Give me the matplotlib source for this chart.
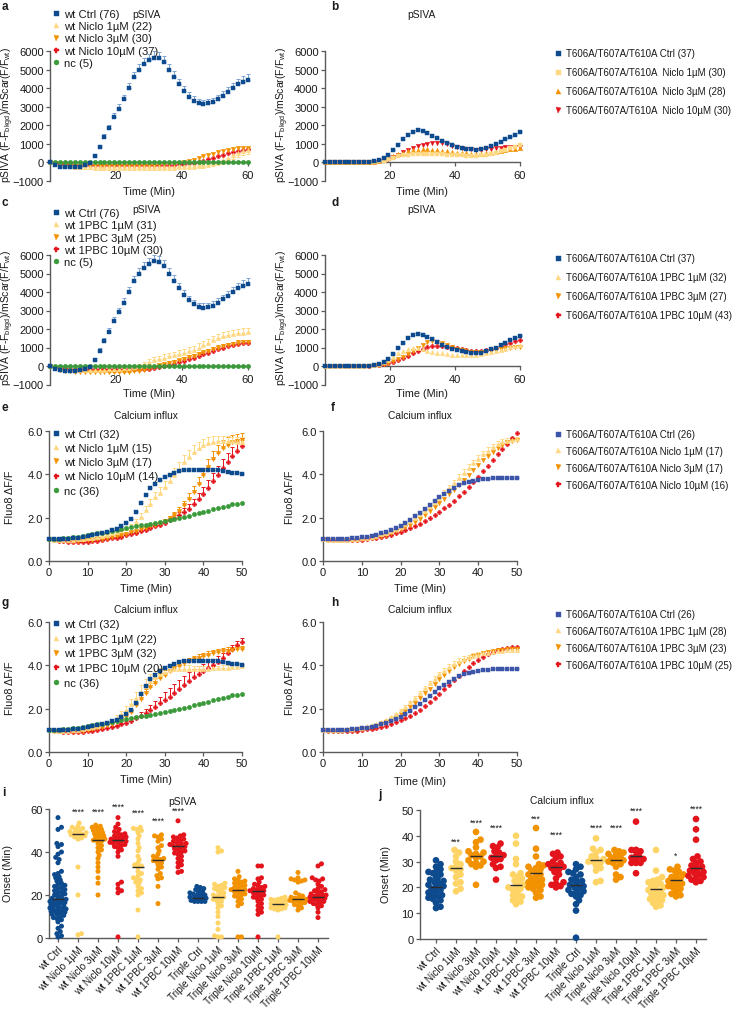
import numpy as np
import matplotlib
matplotlib.use('Agg')
import matplotlib.pyplot as plt
from matplotlib.lines import Line2D

plt.rcParams['font.family'] = ['Liberation Sans', 'DejaVu Sans']
plt.rcParams['mathtext.fontset'] = 'custom'
plt.rcParams['mathtext.rm'] = 'Liberation Sans'

# ---------------- DATA ----------------
t_psiva = np.arange(0, 60.01, 1.5)     # 41 time points (min)
t_ca = np.arange(0, 50.01, 1.25)       # 41 time points (min)

# panel a / c (wt pSIVA)
wt_ctrl_psiva = [0, -150, -230, -260, -270, -260, -220, -150, -30, 350,
                 820, 1350, 1850, 2450, 2900, 3400, 4000, 4600, 5000, 5300,
                 5500, 5650, 5620, 5400, 5000, 4600, 4200, 3850, 3550, 3330,
                 3200, 3150, 3180, 3250, 3400, 3600, 3800, 4000, 4200, 4350,
                 4450]
err_wt_ctrl_psiva = [0, 40, 60, 70, 70, 70, 70, 70, 80, 100,
                     130, 160, 190, 210, 230, 250, 270, 290, 300, 320,
                     340, 350, 350, 340, 320, 300, 280, 260, 250, 240,
                     230, 230, 230, 240, 250, 260, 270, 280, 290, 300,
                     300]
wt_niclo1_psiva = [0, -50, -100, -150, -200, -220, -240, -250, -250, -250,
                   -250, -250, -250, -250, -250, -250, -250, -250, -250, -250,
                   -250, -250, -250, -240, -230, -220, -210, -200, -190, -170,
                   -150, -120, -80, -30, 30, 120, 250, 380, 500, 600,
                   680]
err_wt_niclo1_psiva = [0, 20, 40, 60, 80, 100, 110, 120, 130, 140,
                       150, 160, 160, 170, 170, 170, 170, 170, 170, 170,
                       170, 170, 170, 170, 170, 170, 170, 170, 170, 170,
                       170, 170, 170, 170, 170, 180, 180, 190, 190, 200,
                       200]
wt_niclo3_psiva = [0, -30, -80, -120, -150, -170, -180, -190, -200, -200,
                   -200, -200, -200, -200, -200, -200, -200, -200, -200, -190,
                   -180, -170, -150, -130, -100, -60, -20, 30, 80, 150,
                   230, 320, 400, 480, 550, 620, 680, 720, 760, 790,
                   800]
wt_niclo10_psiva = [0, -30, -60, -80, -100, -120, -130, -140, -150, -150,
                    -150, -150, -150, -150, -150, -150, -150, -150, -150, -150,
                    -150, -150, -150, -150, -140, -130, -110, -80, -50, -10,
                    40, 100, 180, 260, 340, 420, 500, 560, 620, 680,
                    720]
nc_psiva = [0, 0, 10, 10, 10, 10, 10, 20, 20, 20,
            20, 20, 20, 20, 20, 20, 20, 20, 20, 20,
            20, 20, 20, 20, 20, 20, 20, 20, 20, 20,
            20, 20, 20, 20, 20, 20, 20, 20, 20, 20,
            20]
wt_1pbc1_psiva = [0, -80, -150, -180, -200, -200, -200, -200, -200, -200,
                  -200, -200, -180, -160, -140, -120, -100, -60, 0, 100,
                  200, 300, 380, 450, 520, 580, 650, 720, 800, 880,
                  1000, 1120, 1250, 1380, 1500, 1600, 1680, 1740, 1780, 1800,
                  1820]
err_wt_1pbc1_psiva = [0, 20, 30, 40, 40, 40, 40, 40, 40, 40,
                      40, 40, 50, 60, 70, 80, 90, 100, 120, 140,
                      160, 170, 180, 190, 200, 200, 210, 210, 210, 220,
                      220, 220, 220, 230, 230, 230, 230, 230, 240, 240,
                      240]
wt_1pbc3_psiva = [0, -100, -200, -250, -280, -300, -300, -300, -300, -300,
                  -300, -300, -300, -300, -300, -300, -300, -280, -250, -200,
                  -120, -50, 30, 100, 170, 240, 310, 390, 470, 550,
                  640, 730, 820, 910, 1000, 1080, 1150, 1210, 1260, 1290,
                  1300]
err_wt_1pbc3_psiva = [0, 10, 20, 20, 30, 30, 30, 30, 30, 30,
                      30, 30, 30, 30, 30, 30, 30, 40, 40, 50,
                      60, 60, 70, 70, 80, 80, 90, 90, 100, 100,
                      100, 100, 110, 110, 110, 110, 110, 110, 120, 120,
                      120]
wt_1pbc10_psiva = [0, -60, -100, -130, -150, -160, -170, -170, -170, -170,
                   -170, -170, -170, -170, -170, -170, -170, -170, -170, -160,
                   -140, -100, -50, 0, 60, 130, 200, 280, 360, 450,
                   540, 630, 720, 810, 900, 980, 1060, 1130, 1190, 1230,
                   1250]

# panel b / d (triple mutant pSIVA)
tri_ctrl_psiva = [0, 0, 0, 0, 0, 0, 0, 0, 0, 20,
                  60, 120, 230, 380, 650, 950, 1250, 1500, 1650, 1720,
                  1680, 1580, 1450, 1300, 1150, 1020, 920, 850, 790, 740,
                  700, 680, 720, 800, 900, 1000, 1120, 1250, 1380, 1500,
                  1620]
err_tri_ctrl_psiva = [0, 0, 0, 0, 0, 0, 0, 0, 0, 10,
                      10, 20, 30, 40, 60, 80, 100, 110, 120, 120,
                      120, 110, 100, 90, 80, 70, 60, 60, 60, 50,
                      50, 50, 50, 60, 60, 60, 70, 70, 70, 80,
                      80]
tri_niclo1_psiva = [0, 0, 0, 0, 0, 0, 0, 0, 0, 10,
                    30, 60, 100, 170, 250, 320, 380, 420, 450, 460,
                    460, 460, 450, 440, 430, 420, 400, 390, 380, 370,
                    360, 360, 380, 420, 470, 530, 600, 680, 760, 840,
                    920]
tri_niclo3_psiva = [0, 0, 0, 0, 0, 0, 0, 0, 0, 10,
                    40, 80, 150, 250, 350, 450, 530, 600, 650, 690,
                    700, 700, 680, 650, 620, 590, 560, 530, 510, 490,
                    470, 460, 470, 490, 520, 560, 600, 650, 700, 740,
                    780]
tri_niclo10_psiva = [0, 0, 0, 0, 0, 0, 0, 0, 0, 10,
                     30, 60, 120, 200, 300, 420, 540, 650, 760, 860,
                     940, 1000, 1040, 1050, 1020, 970, 910, 850, 790, 740,
                     700, 680, 690, 720, 750, 780, 800, 810, 820, 830,
                     830]
tri_1pbc1_psiva = [0, 0, 0, 0, 0, 0, 0, 0, 0, 30,
                   60, 110, 200, 330, 500, 680, 830, 940, 1000, 980,
                   900, 820, 760, 720, 680, 650, 620, 600, 590, 580,
                   590, 600, 630, 680, 740, 800, 870, 940, 1010, 1080,
                   1150]
tri_1pbc3_psiva = [0, 0, 0, 0, 0, 0, 0, 0, 0, 10,
                   30, 60, 110, 180, 270, 380, 500, 650, 820, 1000,
                   1150, 1280, 1330, 1300, 1220, 1120, 1020, 930, 850, 790,
                   750, 730, 740, 780, 820, 870, 910, 950, 990, 1020,
                   1050]
tri_1pbc10_psiva = [0, 0, 0, 0, 0, 0, 0, 0, 0, 10,
                    30, 60, 100, 160, 230, 320, 420, 540, 680, 820,
                    940, 1030, 1080, 1090, 1080, 1050, 1010, 960, 900, 850,
                    810, 790, 800, 840, 900, 980, 1070, 1170, 1260, 1340,
                    1400]

# panel e / g (wt calcium)
wt_ctrl_ca = [1.00, 1.00, 1.01, 1.02, 1.03, 1.05, 1.07, 1.10, 1.14, 1.19,
              1.24, 1.29, 1.35, 1.42, 1.50, 1.60, 1.75, 1.95, 2.25, 2.70,
              3.05, 3.35, 3.56, 3.72, 3.88, 3.99, 4.08, 4.15, 4.19, 4.21,
              4.22, 4.22, 4.22, 4.21, 4.20, 4.18, 4.15, 4.12, 4.08, 4.04,
              4.00]
err_wt_ctrl_ca = [0, 0, 0, 0, 0, 0, 0, 0, 0.01, 0.01,
                  0.01, 0.01, 0.02, 0.02, 0.02, 0.03, 0.03, 0.04, 0.05, 0.06,
                  0.07, 0.08, 0.09, 0.09, 0.09, 0.09, 0.08, 0.08, 0.07, 0.07,
                  0.07, 0.07, 0.07, 0.07, 0.07, 0.07, 0.07, 0.07, 0.07, 0.07,
                  0.07]
wt_niclo1_ca = [1.00, 0.99, 0.98, 0.98, 0.98, 0.99, 1.00, 1.02, 1.05, 1.08,
                1.12, 1.16, 1.21, 1.27, 1.34, 1.42, 1.51, 1.62, 1.80, 2.05,
                2.35, 2.65, 2.95, 3.15, 3.40, 3.68, 3.98, 4.25, 4.55, 4.80,
                5.02, 5.20, 5.35, 5.45, 5.50, 5.52, 5.53, 5.53, 5.52, 5.51,
                5.50]
err_wt_niclo1_ca = [0, 0, 0, 0, 0, 0, 0, 0.01, 0.01, 0.02,
                    0.02, 0.03, 0.03, 0.04, 0.05, 0.06, 0.08, 0.10, 0.13, 0.16,
                    0.19, 0.22, 0.25, 0.28, 0.30, 0.32, 0.33, 0.34, 0.34, 0.33,
                    0.32, 0.30, 0.28, 0.26, 0.25, 0.24, 0.23, 0.22, 0.22, 0.22,
                    0.22]
wt_niclo3_ca = [1.00, 0.98, 0.96, 0.95, 0.94, 0.94, 0.94, 0.95, 0.96, 0.98,
                1.00, 1.03, 1.06, 1.10, 1.15, 1.20, 1.26, 1.32, 1.39, 1.46,
                1.53, 1.60, 1.67, 1.75, 1.85, 1.97, 2.12, 2.32, 2.58, 2.88,
                3.20, 3.55, 3.95, 4.35, 4.70, 4.98, 5.20, 5.36, 5.48, 5.56,
                5.60]
err_wt_niclo3_ca = [0, 0, 0, 0, 0, 0, 0, 0, 0.01, 0.01,
                    0.01, 0.02, 0.02, 0.03, 0.03, 0.04, 0.04, 0.05, 0.05, 0.06,
                    0.06, 0.07, 0.08, 0.09, 0.10, 0.12, 0.14, 0.17, 0.20, 0.24,
                    0.28, 0.32, 0.35, 0.37, 0.38, 0.38, 0.37, 0.35, 0.33, 0.31,
                    0.30]
wt_niclo10_ca = [1.00, 0.97, 0.94, 0.92, 0.90, 0.89, 0.89, 0.89, 0.90, 0.92,
                 0.94, 0.97, 1.00, 1.04, 1.08, 1.13, 1.18, 1.24, 1.30, 1.37,
                 1.44, 1.52, 1.60, 1.68, 1.77, 1.87, 1.98, 2.12, 2.25, 2.42,
                 2.62, 2.85, 3.10, 3.38, 3.67, 3.97, 4.27, 4.57, 4.85, 5.10,
                 5.30]
err_wt_niclo10_ca = [0, 0, 0, 0, 0, 0, 0, 0, 0.01, 0.01,
                     0.01, 0.02, 0.02, 0.02, 0.03, 0.03, 0.04, 0.04, 0.05, 0.05,
                     0.06, 0.07, 0.08, 0.09, 0.10, 0.11, 0.13, 0.15, 0.18, 0.21,
                     0.25, 0.29, 0.33, 0.37, 0.40, 0.42, 0.43, 0.43, 0.42, 0.40,
                     0.38]
nc_ca = [1.00, 1.01, 1.02, 1.04, 1.06, 1.09, 1.12, 1.15, 1.19, 1.23,
         1.27, 1.31, 1.35, 1.39, 1.43, 1.47, 1.52, 1.56, 1.60, 1.64,
         1.68, 1.72, 1.76, 1.80, 1.84, 1.88, 1.93, 1.98, 2.03, 2.09,
         2.15, 2.21, 2.27, 2.33, 2.39, 2.45, 2.51, 2.56, 2.61, 2.65,
         2.69]
wt_1pbc1_ca = [1.00, 0.99, 0.98, 0.98, 0.99, 1.00, 1.02, 1.05, 1.09, 1.14,
               1.20, 1.27, 1.35, 1.45, 1.58, 1.75, 1.95, 2.20, 2.48, 2.78,
               3.05, 3.28, 3.45, 3.58, 3.70, 3.78, 3.82, 3.84, 3.85, 3.85,
               3.85, 3.85, 3.85, 3.85, 3.86, 3.87, 3.88, 3.90, 3.92, 3.94,
               3.95]
err_wt_1pbc1_ca = [0, 0, 0, 0, 0, 0, 0.01, 0.01, 0.02, 0.03,
                   0.04, 0.05, 0.07, 0.09, 0.12, 0.15, 0.19, 0.23, 0.27, 0.30,
                   0.31, 0.31, 0.30, 0.28, 0.25, 0.22, 0.20, 0.18, 0.16, 0.15,
                   0.14, 0.13, 0.12, 0.12, 0.12, 0.12, 0.12, 0.12, 0.12, 0.12,
                   0.12]
wt_1pbc3_ca = [1.00, 0.98, 0.96, 0.95, 0.95, 0.95, 0.96, 0.98, 1.01, 1.05,
               1.10, 1.16, 1.23, 1.31, 1.40, 1.52, 1.66, 1.84, 2.15, 2.45,
               2.72, 2.98, 3.20, 3.40, 3.57, 3.72, 3.86, 3.98, 4.09, 4.19,
               4.28, 4.36, 4.43, 4.49, 4.55, 4.60, 4.64, 4.68, 4.71, 4.74,
               4.76]
err_wt_1pbc3_ca = [0, 0, 0, 0, 0, 0, 0, 0.01, 0.01, 0.02,
                   0.02, 0.03, 0.04, 0.05, 0.06, 0.08, 0.10, 0.12, 0.15, 0.18,
                   0.20, 0.22, 0.23, 0.23, 0.22, 0.21, 0.20, 0.19, 0.18, 0.17,
                   0.16, 0.15, 0.15, 0.15, 0.15, 0.15, 0.15, 0.15, 0.15, 0.15,
                   0.15]
wt_1pbc10_ca = [1.00, 0.97, 0.95, 0.93, 0.92, 0.92, 0.92, 0.93, 0.95, 0.98,
                1.01, 1.05, 1.10, 1.15, 1.21, 1.28, 1.36, 1.45, 1.55, 1.67,
                1.80, 1.94, 2.09, 2.24, 2.40, 2.56, 2.73, 2.90, 3.08, 3.27,
                3.45, 3.60, 3.74, 3.88, 4.01, 4.15, 4.35, 4.55, 4.75, 4.93,
                5.10]
err_wt_1pbc10_ca = [0, 0, 0, 0, 0, 0, 0, 0, 0.01, 0.01,
                    0.02, 0.02, 0.03, 0.04, 0.05, 0.06, 0.08, 0.10, 0.13, 0.16,
                    0.20, 0.24, 0.28, 0.32, 0.35, 0.38, 0.40, 0.41, 0.41, 0.40,
                    0.38, 0.36, 0.33, 0.30, 0.28, 0.26, 0.24, 0.22, 0.20, 0.19,
                    0.18]

# panel f / h (triple mutant calcium)
tri_ctrl_ca = [1.00, 1.00, 1.00, 1.01, 1.02, 1.03, 1.05, 1.07, 1.10, 1.13,
               1.17, 1.22, 1.28, 1.35, 1.43, 1.52, 1.63, 1.76, 1.90, 2.06,
               2.23, 2.41, 2.59, 2.77, 2.94, 3.10, 3.25, 3.38, 3.49, 3.58,
               3.65, 3.71, 3.75, 3.78, 3.80, 3.81, 3.82, 3.82, 3.82, 3.82,
               3.81]
err_tri_ctrl_ca = [0, 0, 0, 0, 0, 0, 0, 0.01, 0.01, 0.01,
                   0.01, 0.02, 0.02, 0.02, 0.03, 0.03, 0.04, 0.04, 0.05, 0.05,
                   0.06, 0.06, 0.07, 0.07, 0.07, 0.07, 0.07, 0.07, 0.06, 0.06,
                   0.06, 0.05, 0.05, 0.05, 0.05, 0.05, 0.05, 0.05, 0.05, 0.05,
                   0.05]
tri_niclo1_ca = [1.00, 0.99, 0.98, 0.98, 0.98, 0.99, 1.00, 1.02, 1.05, 1.08,
                 1.12, 1.17, 1.23, 1.30, 1.38, 1.47, 1.57, 1.69, 1.83, 1.98,
                 2.15, 2.33, 2.52, 2.72, 2.93, 3.15, 3.38, 3.61, 3.84, 4.07,
                 4.30, 4.52, 4.73, 4.92, 5.10, 5.25, 5.38, 5.48, 5.55, 5.60,
                 5.62]
err_tri_niclo1_ca = [0, 0, 0, 0, 0, 0, 0, 0, 0.01, 0.01,
                     0.01, 0.02, 0.02, 0.03, 0.03, 0.04, 0.05, 0.06, 0.07, 0.08,
                     0.09, 0.10, 0.11, 0.12, 0.13, 0.14, 0.15, 0.15, 0.16, 0.16,
                     0.16, 0.16, 0.16, 0.15, 0.15, 0.14, 0.14, 0.13, 0.13, 0.12,
                     0.12]
tri_niclo3_ca = [1.00, 0.99, 0.98, 0.97, 0.97, 0.97, 0.98, 0.99, 1.01, 1.04,
                 1.07, 1.11, 1.16, 1.22, 1.29, 1.37, 1.46, 1.56, 1.68, 1.81,
                 1.96, 2.12, 2.29, 2.47, 2.66, 2.86, 3.07, 3.29, 3.51, 3.74,
                 3.97, 4.20, 4.43, 4.65, 4.86, 5.05, 5.22, 5.36, 5.47, 5.55,
                 5.60]
tri_niclo10_ca = [1.00, 0.99, 0.97, 0.96, 0.96, 0.96, 0.96, 0.97, 0.99, 1.01,
                  1.04, 1.07, 1.11, 1.16, 1.22, 1.28, 1.35, 1.43, 1.52, 1.62,
                  1.73, 1.85, 1.98, 2.12, 2.27, 2.43, 2.60, 2.79, 2.99, 3.20,
                  3.42, 3.65, 3.89, 4.14, 4.40, 4.66, 4.92, 5.17, 5.42, 5.66,
                  5.90]
tri_1pbc1_ca = [1.00, 1.00, 1.00, 1.01, 1.02, 1.04, 1.06, 1.09, 1.13, 1.18,
                1.24, 1.31, 1.40, 1.50, 1.62, 1.76, 1.92, 2.10, 2.30, 2.51,
                2.73, 2.95, 3.17, 3.38, 3.58, 3.76, 3.92, 4.06, 4.18, 4.28,
                4.37, 4.44, 4.50, 4.55, 4.59, 4.62, 4.65, 4.67, 4.69, 4.70,
                4.71]
err_tri_1pbc1_ca = [0, 0, 0, 0, 0, 0, 0, 0, 0.01, 0.01,
                    0.01, 0.02, 0.02, 0.03, 0.03, 0.04, 0.05, 0.06, 0.07, 0.08,
                    0.09, 0.10, 0.11, 0.12, 0.13, 0.14, 0.14, 0.14, 0.14, 0.14,
                    0.13, 0.13, 0.12, 0.12, 0.11, 0.11, 0.10, 0.10, 0.10, 0.10,
                    0.10]
tri_1pbc3_ca = [1.00, 0.99, 0.99, 0.99, 0.99, 1.00, 1.02, 1.04, 1.07, 1.11,
                1.16, 1.22, 1.29, 1.38, 1.48, 1.60, 1.74, 1.90, 2.08, 2.28,
                2.49, 2.71, 2.93, 3.15, 3.36, 3.56, 3.74, 3.91, 4.06, 4.19,
                4.31, 4.41, 4.49, 4.56, 4.62, 4.67, 4.70, 4.73, 4.75, 4.76,
                4.77]
tri_1pbc10_ca = [1.00, 0.99, 0.98, 0.97, 0.97, 0.97, 0.98, 0.99, 1.01, 1.04,
                 1.07, 1.11, 1.16, 1.22, 1.29, 1.37, 1.46, 1.56, 1.68, 1.81,
                 1.96, 2.12, 2.30, 2.49, 2.69, 2.90, 3.11, 3.32, 3.53, 3.73,
                 3.92, 4.10, 4.26, 4.40, 4.52, 4.62, 4.70, 4.76, 4.80, 4.83,
                 4.85]

# panels i / j (onset scatter)
groups = ["wt Ctrl", "wt Niclo 1µM", "wt Niclo 3µM", "wt Niclo 10µM",
          "wt 1PBC 1µM", "wt 1PBC 3µM", "wt 1PBC 10µM", "Triple Ctrl",
          "Triple Niclo 1µM", "Triple Niclo 3µM", "Triple Niclo 10µM",
          "Triple 1PBC 1µM", "Triple 1PBC 3µM", "Triple 1PBC 10µM"]

onset_psiva = [
    [56, 51.5, 50.5, 44, 43.5, 42.5, 40, 39, 37.5, 36.5, 35, 31, 30, 29.5, 28.5, 28, 27, 26.5, 25.5, 25,
     24.5, 24, 23.5, 23, 22.5, 22, 21.5, 21, 20.5, 20, 19.5, 19, 18.5, 18.5, 18, 18, 18, 17.5, 17.5, 17,
     17, 16.5, 16.5, 16, 16, 15.5, 15.5, 15, 15, 14.5, 14.5, 14, 14, 13.5, 13.5, 13, 13, 12.5, 12.5, 12,
     12, 11.5, 11, 11, 10.5, 10, 9.5, 9, 8.5, 7.5, 5.5, 4.5, 3, 2, 1, 0.5],
    [53.5, 52, 51.5, 51, 50.5, 50, 49.5, 49, 49, 48.5, 48.5, 48.5, 48, 48, 47.5, 47, 46.5, 46, 33, 20, 2, 1.5],
    [52.5, 52, 51.5, 51, 50.5, 50, 49.5, 49, 48.5, 48, 47.5, 47, 46.5, 46, 45.5, 45.5, 45, 44, 43, 42,
     41, 40, 38.5, 37, 35, 33, 28, 25.5, 20, 31],
    [56, 53, 51.5, 50.5, 49.5, 49, 48.5, 48, 47.5, 47, 47, 46.5, 46.5, 46, 46, 45.5, 45.5, 45.5, 45, 45,
     44.5, 44.5, 44, 44, 43.5, 43, 42.5, 42, 41, 40, 38, 26, 25, 23, 21, 0.5, 22],
    [51.5, 51, 50.5, 50, 49, 47.5, 46, 44, 42, 40.5, 38, 36.5, 35, 34, 33.5, 33, 31, 30, 29, 28,
     27.5, 27, 26, 25.5, 24, 23, 22, 21, 20, 13, 0.5],
    [48, 47.5, 47, 46, 45, 43, 42, 40.5, 39, 38, 37.5, 37, 36.5, 36, 35.5, 35, 34, 33, 32, 30,
     29, 28, 27.5, 24, 16],
    [54.5, 48, 47.5, 47, 46.5, 46, 45.5, 45, 44.5, 44, 44, 43.5, 43, 43, 42.5, 42, 41.5, 41, 40.5, 40,
     39.5, 39, 38, 37, 36, 35, 34, 33, 31, 30.5],
    [24, 23.5, 23, 22.5, 22, 21.5, 21, 20.5, 20.5, 20, 20, 19.5, 19.5, 19, 19, 19, 18.5, 18.5, 18.5, 18.5,
     18, 18, 18, 18, 18, 17.5, 17.5, 17.5, 17.5, 17.5, 17, 17, 17, 17, 19, 18.5, 18],
    [42, 40.5, 40, 25.5, 25, 24.5, 24, 23.5, 23, 22.5, 22, 21, 20.5, 20, 19.5, 19, 18.5, 18, 17.5, 17,
     16, 15, 14, 12, 10, 7, 4, 1, 0.5, 0.5],
    [31, 28.5, 27.5, 27, 26.5, 26, 25.5, 25, 24.5, 24, 23.5, 23, 22.5, 22.5, 22, 21.5, 21, 20.5, 20, 19.5,
     19, 18, 17, 16, 15, 0.5, 0.5, 23],
    [33.5, 33.5, 28, 27.5, 26, 25, 24.5, 24, 23.5, 23, 22.5, 22, 22, 21.5, 21, 20.5, 20, 19.5, 19, 18.5,
     18, 17, 16, 15, 14, 13, 12, 11, 0.5, 22.5],
    [19, 18.5, 18, 18, 17.5, 17.5, 17, 17, 16.5, 16.5, 16.5, 16, 16, 16, 16, 15.5, 15.5, 15.5, 15, 15,
     15, 14.5, 14.5, 14, 14, 13.5, 13.5, 13, 17, 16, 15, 0.5],
    [30.5, 28, 27.5, 27, 27, 26.5, 26, 21, 20, 19.5, 19, 18.5, 18.5, 18, 18, 18, 17.5, 17.5, 17, 17,
     16.5, 16, 15.5, 15, 14, 13, 17.5],
    [34.5, 33.5, 28, 27.5, 27, 26.5, 25, 24, 23, 22.5, 22, 21.5, 21, 21, 20.5, 20.5, 20, 20, 20, 19.5,
     19.5, 19.5, 19, 19, 19, 19, 18.5, 18.5, 18.5, 18, 18, 18, 17.5, 17.5, 17, 17, 16.5, 16, 15.5, 15,
     14, 12, 9.5],
]
center_psiva = [18, 48.5, 45.5, 45.5, 33, 36.5, 43, 18.5, 19, 22.5, 22, 16, 18, 19]
stars_psiva = [(1, "****", 58.9), (2, "****", 58.9), (3, "****", 61.2),
               (4, "****", 58.4), (5, "****", 55.0), (6, "****", 59.2)]

onset_ca = [
    [30.5, 29, 28, 27, 26, 26, 25.5, 25, 24, 23.5, 23, 22.5, 22, 21.5, 21, 20.5, 20, 20, 19.5, 19,
     18.5, 18, 18, 17.5, 17, 16.5, 16, 15.5, 15, 14, 12.5, 12],
    [34.5, 33.5, 32, 30, 29, 28, 27.5, 27, 26.5, 25, 24, 22, 21.5, 19.5, 18.5],
    [41.5, 38.5, 37.5, 35.5, 34, 33, 32.5, 32, 31.5, 30.5, 30, 29.5, 29, 28.5, 28, 21, 33.5],
    [37, 36, 35.5, 34, 33.5, 32.5, 32, 31.5, 31, 30.5, 29, 28, 27.5, 23],
    [40, 37, 31, 29, 25.5, 25, 24, 23.5, 22.5, 22, 21, 20.5, 20, 19.5, 19, 18, 17, 16.5, 16, 15,
     14.5, 13.5],
    [43, 35, 32, 29, 28.5, 28, 27.5, 27, 26.5, 26, 26, 25.5, 25.5, 25, 25, 24.5, 24, 24, 23.5, 23,
     23, 22.5, 22, 21.5, 21, 20.5, 20, 19.5, 19, 18, 16.5, 16],
    [33.5, 33, 32, 31.5, 30, 29.5, 29, 28.5, 28, 28, 27.5, 27, 26, 25, 23.5, 22, 21, 20.5, 20, 21.5],
    [29, 28, 27, 26, 25.5, 25, 24, 23.5, 23, 22.5, 22, 21.5, 21, 20.5, 20, 19.5, 19, 18.5, 18, 17.5,
     17, 16.5, 15, 13.5, 11, 0.5],
    [39, 35, 34.5, 33.5, 32, 31.5, 31, 30.5, 30.5, 30, 29.5, 28.5, 27.5, 26.5, 22.5, 22, 30],
    [34.5, 34, 33.5, 32.5, 32, 31.5, 31, 30.5, 30.5, 30, 29.5, 29, 28, 25, 24, 23, 33],
    [45.5, 34.5, 34.5, 34.5, 34, 32, 32, 31.5, 31, 30.5, 29.5, 29.5, 29.5, 25.5, 34, 32],
    [34.5, 26.5, 24, 23, 22.5, 22, 21.5, 21, 20.5, 20, 20, 19.5, 19.5, 19, 19, 18.5, 18, 18, 17.5, 17,
     16.5, 16, 15.5, 15, 14.5, 14, 13, 12.5],
    [28, 27, 26.5, 26, 25, 24.5, 24, 23.5, 23.5, 23, 23, 22.5, 22.5, 22, 21.5, 21, 20.5, 20, 19.5, 18.5,
     17.5, 17, 16.5],
    [46.5, 42.5, 38.5, 32, 31, 30, 29.5, 29, 28.5, 28, 27.5, 27.5, 27, 26.5, 26, 25.5, 25, 24.5, 24, 23.5,
     23, 22.5, 22, 23, 27],
]
center_ca = [20, 27.5, 32, 32, 21, 25.5, 28, 21, 30.5, 30.5, 32, 19.5, 23, 27.5]
stars_ca = [(1, "***", 38.0), (2, "****", 45.1), (3, "****", 43.4), (5, "***", 47.0),
            (6, "****", 40.5), (8, "****", 43.4), (9, "****", 43.4), (10, "****", 49.9),
            (12, "*", 32.5), (13, "****", 50.6)]

# ---------------- STYLE ----------------
BLUE = '#0d4a8e'
BLUE_E = '#7ea4d2'
BLUE2 = '#3d55a8'
BLUE2_E = '#9aaee0'
PALE = '#ffd883'
ORANGE = '#f39200'
RED = '#e3141b'
GREEN = '#3a9a3a'
YEL = '#ffd466'
AX = '#5a5a5a'
TXT = '#1a1a1a'
TICK_FS = 8.0
LAB_FS = 7.8

W, H = 732, 1012
fig = plt.figure(figsize=(W / 100, H / 100), dpi=100)
fig.patch.set_facecolor('white')


def rect(x0, x1, ytop, ybot):
    return [x0 / W, 1 - ybot / H, (x1 - x0) / W, (ybot - ytop) / H]


def ftext(x, y, s, **kw):
    kw.setdefault('color', TXT)
    return fig.text(x / W, 1 - y / H, s, **kw)


def style(ax):
    for s in ['top', 'right']:
        ax.spines[s].set_visible(False)
    for s in ['left', 'bottom']:
        ax.spines[s].set_color(AX)
        ax.spines[s].set_linewidth(1.0)
    ax.tick_params(direction='out', length=3, width=0.9, color=AX, labelsize=TICK_FS,
                   labelcolor=TXT, pad=1.5)
    ax.set_facecolor('none')


def series(ax, t, y, marker, color, ms=3.2, err=None, errdir='up', ecolor=None, z=3):
    y = np.asarray(y, float)
    if err is not None:
        e = np.asarray(err, float)
        zeros = np.zeros_like(e)
        yerr = [zeros, e] if errdir == 'up' else [e, zeros]
        ax.errorbar(t, y, yerr=yerr, fmt='none', ecolor=ecolor or color, elinewidth=0.7,
                    capsize=1.6, capthick=0.7, zorder=z - 0.5, clip_on=False)
    ax.plot(t, y, linestyle='none', marker=marker, color=color, ms=ms, mec=color, mew=0.3,
            zorder=z, clip_on=False)


def handle(marker, color, ms=3.6):
    return Line2D([], [], linestyle='none', marker=marker, color=color, ms=ms, mec=color, mew=0.3)


def legend(ax, items, x_px, ytop_px, fs, spacing):
    hs = [handle(m, c) for m, c, _ in items]
    ls = [l for _, _, l in items]
    leg = ax.legend(hs, ls, loc='upper left', bbox_to_anchor=(x_px / W, 1 - ytop_px / H),
                    bbox_transform=fig.transFigure, frameon=False, fontsize=fs,
                    handlelength=0.65, handletextpad=0.45, labelspacing=spacing,
                    borderpad=0, borderaxespad=0)
    for tx in leg.get_texts():
        tx.set_color(TXT)


def psiva_axes(x0, x1, ytop, ybot):
    ax = fig.add_axes(rect(x0, x1, ytop, ybot))
    style(ax)
    ax.set_xlim(0, 60)
    ax.set_ylim(-1000, 6000)
    ax.spines['bottom'].set_position(('data', 0))
    ax.set_xticks([20, 40, 60])
    ax.set_yticks(range(-1000, 6001, 1000))
    ax.tick_params(axis='x', pad=2.5)
    return ax


def ca_axes(x0, x1, ytop, ybot):
    ax = fig.add_axes(rect(x0, x1, ytop, ybot))
    style(ax)
    ax.set_xlim(0, 50)
    ax.set_ylim(0, 6)
    ax.set_xticks(range(0, 51, 10))
    ax.set_yticks([0, 2, 4, 6])
    ax.set_yticklabels(['0.0', '2.0', '4.0', '6.0'])
    return ax


PSIVA_YL = r"pSIVA (F-F$_{\mathrm{bkgd}}$)/mScar(F/F$_{\mathrm{wt}}$)"
TRI = "T606A/T607A/T610A"
LFS = 8.1   # left legends
RFS = 7.05  # right legends

# ---------- panel a ----------
ax = psiva_axes(50, 248, 52, 182)
series(ax, t_psiva, wt_niclo10_psiva, 'P', RED)
series(ax, t_psiva, wt_niclo3_psiva, 'v', ORANGE)
series(ax, t_psiva, wt_niclo1_psiva, '^', PALE, err=err_wt_niclo1_psiva, errdir='down')
series(ax, t_psiva, nc_psiva, 'o', GREEN)
series(ax, t_psiva, wt_ctrl_psiva, 's', BLUE, err=err_wt_ctrl_psiva, ecolor=BLUE_E, z=5)
legend(ax, [('s', BLUE, 'wt Ctrl (76)'), ('^', PALE, 'wt Niclo 1µM (22)'),
            ('v', ORANGE, 'wt Niclo 3µM (30)'), ('P', RED, 'wt Niclo 10µM (37)'),
            ('o', GREEN, 'nc (5)')], 52, 10, LFS, 0.2)

# ---------- panel b ----------
ax = psiva_axes(325, 520, 52, 182)
series(ax, t_psiva, tri_niclo10_psiva, 'v', RED)
series(ax, t_psiva, tri_niclo3_psiva, '^', ORANGE)
series(ax, t_psiva, tri_niclo1_psiva, 's', PALE)
series(ax, t_psiva, tri_ctrl_psiva, 's', BLUE, err=err_tri_ctrl_psiva, ecolor=BLUE_E, z=5)
legend(ax, [('s', BLUE, TRI + ' Ctrl (37)'), ('s', PALE, TRI + '  Niclo 1µM (30)'),
            ('^', ORANGE, TRI + '  Niclo 3µM (28)'), ('v', RED, TRI + '  Niclo 10µM (30)')],
       555, 49, RFS, 0.93)

# ---------- panel c ----------
ax = psiva_axes(50, 248, 256, 385.5)
series(ax, t_psiva, wt_1pbc10_psiva, 'P', RED)
series(ax, t_psiva, wt_1pbc3_psiva, 'v', ORANGE, err=err_wt_1pbc3_psiva)
series(ax, t_psiva, wt_1pbc1_psiva, '^', PALE, err=err_wt_1pbc1_psiva)
series(ax, t_psiva, nc_psiva, 'o', GREEN)
series(ax, t_psiva, wt_ctrl_psiva, 's', BLUE, err=err_wt_ctrl_psiva, ecolor=BLUE_E, z=5)
legend(ax, [('s', BLUE, 'wt Ctrl (76)'), ('^', PALE, 'wt 1PBC 1µM (31)'),
            ('v', ORANGE, 'wt 1PBC 3µM (25)'), ('P', RED, 'wt 1PBC 10µM (30)'),
            ('o', GREEN, 'nc (5)')], 52, 209, LFS, 0.2)

# ---------- panel d ----------
ax = psiva_axes(325, 520, 256, 385.5)
series(ax, t_psiva, tri_1pbc10_psiva, 'P', RED)
series(ax, t_psiva, tri_1pbc3_psiva, 'v', ORANGE)
series(ax, t_psiva, tri_1pbc1_psiva, '^', PALE)
series(ax, t_psiva, tri_ctrl_psiva, 's', BLUE, err=err_tri_ctrl_psiva, ecolor=BLUE_E, z=5)
legend(ax, [('s', BLUE, TRI + ' Ctrl (37)'), ('^', PALE, TRI + ' 1PBC 1µM (32)'),
            ('v', ORANGE, TRI + ' 1PBC 3µM (27)'), ('P', RED, TRI + ' 1PBC 10µM (43)')],
       555, 254, RFS, 0.93)

# ---------- panel e ----------
ax = ca_axes(49, 242, 432, 562)
series(ax, t_ca, wt_niclo10_ca, 'P', RED, err=err_wt_niclo10_ca)
series(ax, t_ca, wt_niclo3_ca, 'v', ORANGE, err=err_wt_niclo3_ca)
series(ax, t_ca, wt_niclo1_ca, '^', PALE, err=err_wt_niclo1_ca)
series(ax, t_ca, nc_ca, 'o', GREEN)
series(ax, t_ca, wt_ctrl_ca, 's', BLUE, err=err_wt_ctrl_ca, ecolor=BLUE_E, z=5)
legend(ax, [('s', BLUE, 'wt Ctrl (32)'), ('^', PALE, 'wt Niclo 1µM (15)'),
            ('v', ORANGE, 'wt Niclo 3µM (17)'), ('P', RED, 'wt Niclo 10µM (14)'),
            ('o', GREEN, 'nc (36)')], 52, 430, LFS, 0.37)

# ---------- panel f ----------
ax = ca_axes(323, 517, 432, 562)
series(ax, t_ca, tri_niclo10_ca, 'P', RED)
series(ax, t_ca, tri_niclo3_ca, 'v', ORANGE)
series(ax, t_ca, tri_niclo1_ca, '^', PALE, err=err_tri_niclo1_ca)
series(ax, t_ca, tri_ctrl_ca, 's', BLUE2, err=err_tri_ctrl_ca, ecolor=BLUE2_E, z=5)
legend(ax, [('s', BLUE2, TRI + ' Ctrl (26)'), ('^', PALE, TRI + ' Niclo 1µM (17)'),
            ('v', ORANGE, TRI + ' Niclo 3µM (17)'), ('P', RED, TRI + ' Niclo 10µM (16)')],
       555, 430, RFS, 0.7)

# ---------- panel g ----------
ax = ca_axes(49, 242, 623, 753)
series(ax, t_ca, wt_1pbc10_ca, 'P', RED, err=err_wt_1pbc10_ca)
series(ax, t_ca, wt_1pbc3_ca, 'v', ORANGE, err=err_wt_1pbc3_ca)
series(ax, t_ca, wt_1pbc1_ca, '^', PALE, err=err_wt_1pbc1_ca)
series(ax, t_ca, nc_ca, 'o', GREEN)
series(ax, t_ca, wt_ctrl_ca, 's', BLUE, err=err_wt_ctrl_ca, ecolor=BLUE_E, z=5)
legend(ax, [('s', BLUE, 'wt Ctrl (32)'), ('^', PALE, 'wt 1PBC 1µM (22)'),
            ('v', ORANGE, 'wt 1PBC 3µM (32)'), ('P', RED, 'wt 1PBC 10µM (20)'),
            ('o', GREEN, 'nc (36)')], 52, 620, LFS, 0.42)

# ---------- panel h ----------
ax = ca_axes(323, 517, 623, 753)
series(ax, t_ca, tri_1pbc10_ca, 'P', RED)
series(ax, t_ca, tri_1pbc3_ca, 'v', ORANGE)
series(ax, t_ca, tri_1pbc1_ca, '^', PALE, err=err_tri_1pbc1_ca)
series(ax, t_ca, tri_ctrl_ca, 's', BLUE2, err=err_tri_ctrl_ca, ecolor=BLUE2_E, z=5)
legend(ax, [('s', BLUE2, TRI + ' Ctrl (26)'), ('^', PALE, TRI + ' 1PBC 1µM (28)'),
            ('v', ORANGE, TRI + ' 1PBC 3µM (23)'), ('P', RED, TRI + ' 1PBC 10µM (25)')],
       555, 610, RFS, 0.7)

# ---------- scatter panels ----------
GCOL = [BLUE, YEL, ORANGE, RED, YEL, ORANGE, RED, BLUE, YEL, ORANGE, RED, YEL, ORANGE, RED]


def swarm(vals, ypx, xpx, d, maxoff):
    vals = np.asarray(vals, float)
    order = np.argsort(vals)
    placed = []
    offs = np.zeros(len(vals))
    steps = np.arange(0, 60) * d * 0.35
    cands = [0.0]
    for s in steps[1:]:
        cands += [s, -s]
    for i in order:
        yp = vals[i] * ypx
        chosen = 0.0
        for c in cands:
            if abs(c) > maxoff:
                continue
            if all((c - px) ** 2 + (yp - py) ** 2 >= d * d for px, py in placed):
                chosen = c
                break
        placed.append((chosen, yp))
        offs[i] = chosen / xpx
    return offs


def onset_panel(x0, x1, ytop, ybot, ymax, ystep, xlo, data, centers, stars, s, d_px):
    ax = fig.add_axes(rect(x0, x1, ytop, ybot))
    style(ax)
    ax.set_xlim(xlo, 13.5)
    ax.set_ylim(0, ymax)
    ax.set_yticks(range(0, ymax + 1, ystep))
    ax.set_xticks(range(len(groups)))
    ax.set_xticklabels(groups, rotation=45, ha='right', rotation_mode='anchor', fontsize=7.2)
    xpx = (x1 - x0) / (13.5 - xlo)
    ypx = (ybot - ytop) / ymax
    for k, vals in enumerate(data):
        offs = swarm(vals, ypx, xpx, d_px, 9.0)
        ax.scatter(k + offs, vals, s=s, color=GCOL[k], edgecolors='none', zorder=3, clip_on=False)
        ax.hlines(centers[k], k - 0.32, k + 0.32, color='#2b2b2b', lw=1.0, zorder=4)
    for k, txt, yv in stars:
        ax.text(k, yv, txt, ha='center', va='center', fontsize=6.2, color=TXT)
    return ax


ax_i = onset_panel(49, 328, 810, 939, 60, 20, -0.45, onset_psiva, center_psiva, stars_psiva, 13, 3.3)
ax_j = onset_panel(420, 706, 811, 940, 50, 10, -0.8, onset_ca, center_ca, stars_ca, 23, 4.3)

# ---------------- TEXT ----------------
for lab, x, y in [('a', 2, 7), ('b', 331, 7), ('c', 2, 203), ('d', 331, 203),
                  ('e', 2, 408), ('f', 331, 408), ('g', 2, 603), ('h', 331, 603),
                  ('i', 2, 793), ('j', 378, 795)]:
    ftext(x, y, lab, fontsize=8.5, fontweight='bold', ha='left', va='center')

for x, y, s in [(146, 15, 'pSIVA'), (421, 15, 'pSIVA'), (146, 210, 'pSIVA'), (421, 210, 'pSIVA'),
                (146, 416, 'Calcium influx'), (420, 416, 'Calcium influx'),
                (146, 610, 'Calcium influx'), (420, 610, 'Calcium influx'),
                (182, 802, 'pSIVA'), (562, 801, 'Calcium influx')]:
    ftext(x, y, s, fontsize=7.4, ha='center', va='center')

for x, y in [(149, 192), (422, 192), (149, 394), (422, 394), (146, 589), (420, 589),
             (146, 780), (420, 782)]:
    ftext(x, y, 'Time (Min)', fontsize=LAB_FS, ha='center', va='center')

for x, y in [(8, 115), (283, 115), (8, 318), (283, 318)]:
    ftext(x, y, PSIVA_YL, fontsize=7.5, rotation=90, ha='center', va='center')
for x, y in [(10, 497), (290, 497), (10, 688), (290, 688)]:
    ftext(x, y, 'Fluo8 ΔF/F', fontsize=LAB_FS, rotation=90, ha='center', va='center')
ftext(8, 874, 'Onset (Min)', fontsize=LAB_FS, rotation=90, ha='center', va='center')
ftext(386, 875, 'Onset (Min)', fontsize=LAB_FS, rotation=90, ha='center', va='center')

fig.savefig('out.png', dpi=100, facecolor='white')
